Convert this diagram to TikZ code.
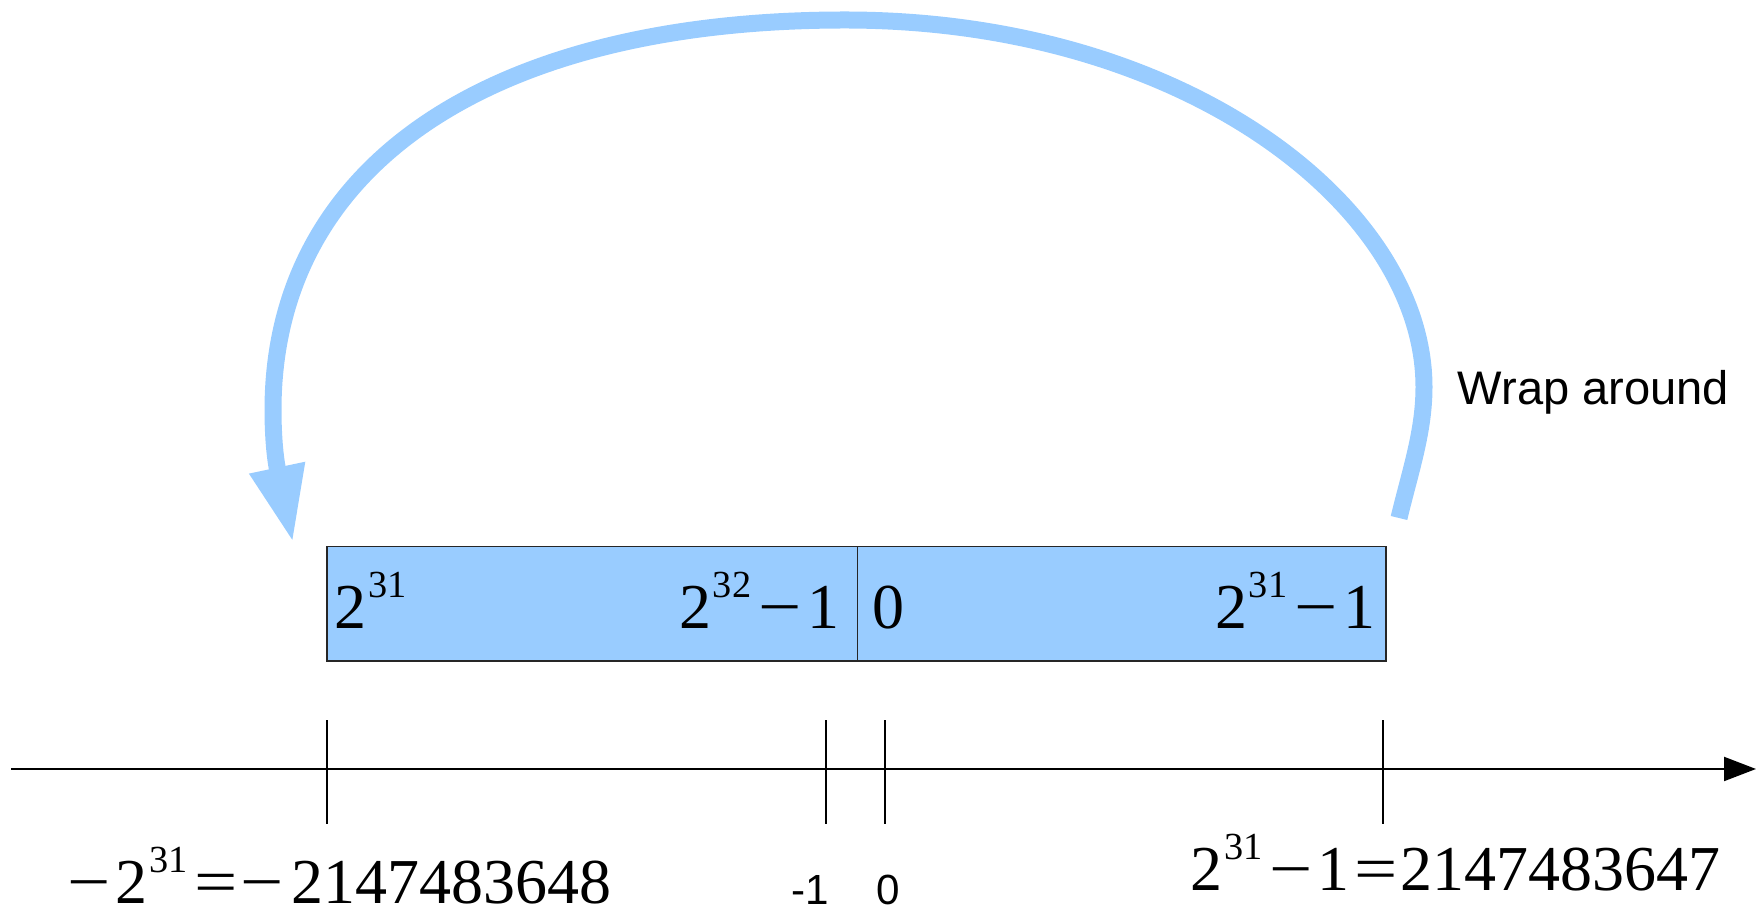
\documentclass[tikz,border=0pt]{standalone}
\usepackage{fontspec}
\usepackage{graphicx}
\setmainfont{Liberation Serif}
\setsansfont{Liberation Sans}
\usetikzlibrary{arrows.meta}
\definecolor{wrapblue}{HTML}{99CCFF}
\newcommand\sups[1]{\kern.03em\raisebox{.5em}{\fontsize{10.9}{10}\selectfont#1}}
\newcommand\mi{\scalebox{1.2}[1]{−}}
\newcommand\eqs{\scalebox{1.2}[1]{=}}

\begin{document}
\begin{tikzpicture}[x=1cm,y=1cm,
  half/.style={fill=wrapblue,minimum height=1.13cm,inner sep=0pt,anchor=south west},
  boxline/.style={draw=black!85,line width=.45pt},
  num/.style={font=\fontsize{18.2}{18}\selectfont,inner sep=0pt},
  lbl/.style={font=\sffamily\fontsize{12}{12}\selectfont,inner sep=0pt},
  tick/.style={line width=.5pt}]
\useasboundingbox (0,0) rectangle (17.63,9.12);
\node[half,minimum width=5.29cm] (neg) at (3.27,2.51) {};
\node[half,minimum width=5.27cm] (pos) at (neg.south east) {};
\draw[boxline] (neg.south west) rectangle (pos.north east);\draw[boxline] (neg.south east)--(neg.north east);
\node[num,anchor=base west] (negmin) at (3.34,2.83) {2\sups{31}};
\node[num,anchor=base east] (negmax) at (8.40,2.83) {2\sups{32}\kern.12em\mi\kern.08em1};
\node[num,anchor=base west] (poszero) at (8.72,2.83) {0};
\node[num,anchor=base east] (posmax) at (13.76,2.83) {2\sups{31}\kern.12em\mi\kern.08em1};
\coordinate (axl) at (0.11,1.43);\coordinate (axr) at (17.56,1.43);
\draw[line width=.6pt,-{Triangle[length=.32cm,width=.24cm]}] (axl)--(axr);
\foreach \x in {3.27,8.26,8.85,13.83} \draw[tick] (\x,0.88)--(\x,1.92);
\node[num,anchor=base west] (minval) at (0.67,0.08) {\mi\kern.07em2\sups{31}\kern.1em\eqs\kern.05em\mi\kern.12em2147483648};
\node[num,anchor=base west] (maxval) at (11.90,0.21) {2\sups{31}\kern.1em\mi\kern.08em1\kern.07em\eqs\kern.05em2147483647};
\node[lbl,anchor=base] (mone) at (8.10,0.07) {-1};\node[lbl,anchor=base] (zero) at (8.88,0.07) {0};
\node[lbl,font=\sffamily\fontsize{13.4}{14}\selectfont,anchor=base west] (wrap) at (14.57,5.07) {Wrap around};
\coordinate (wrapfrom) at (13.99,3.94);\coordinate (wrapright) at (14.24,5.25);
\coordinate (wraptop) at (8.45,8.92);\coordinate (wrapleft) at (2.73,5.02);\coordinate (wrapto) at (2.93,3.69);
\draw[wrapblue,line width=.17cm,-{Triangle[length=.77cm,width=.52cm]}] (wrapfrom) .. controls (14.10,4.40) and (14.24,4.80) .. (wrapright)
  .. controls (14.24,7.05) and (11.85,8.92) .. (wraptop) .. controls (4.92,8.92) and (2.73,7.48) .. (wrapleft)
  .. controls (2.73,4.85) and (2.74,4.59) .. (wrapto);
\end{tikzpicture}
\end{document}
